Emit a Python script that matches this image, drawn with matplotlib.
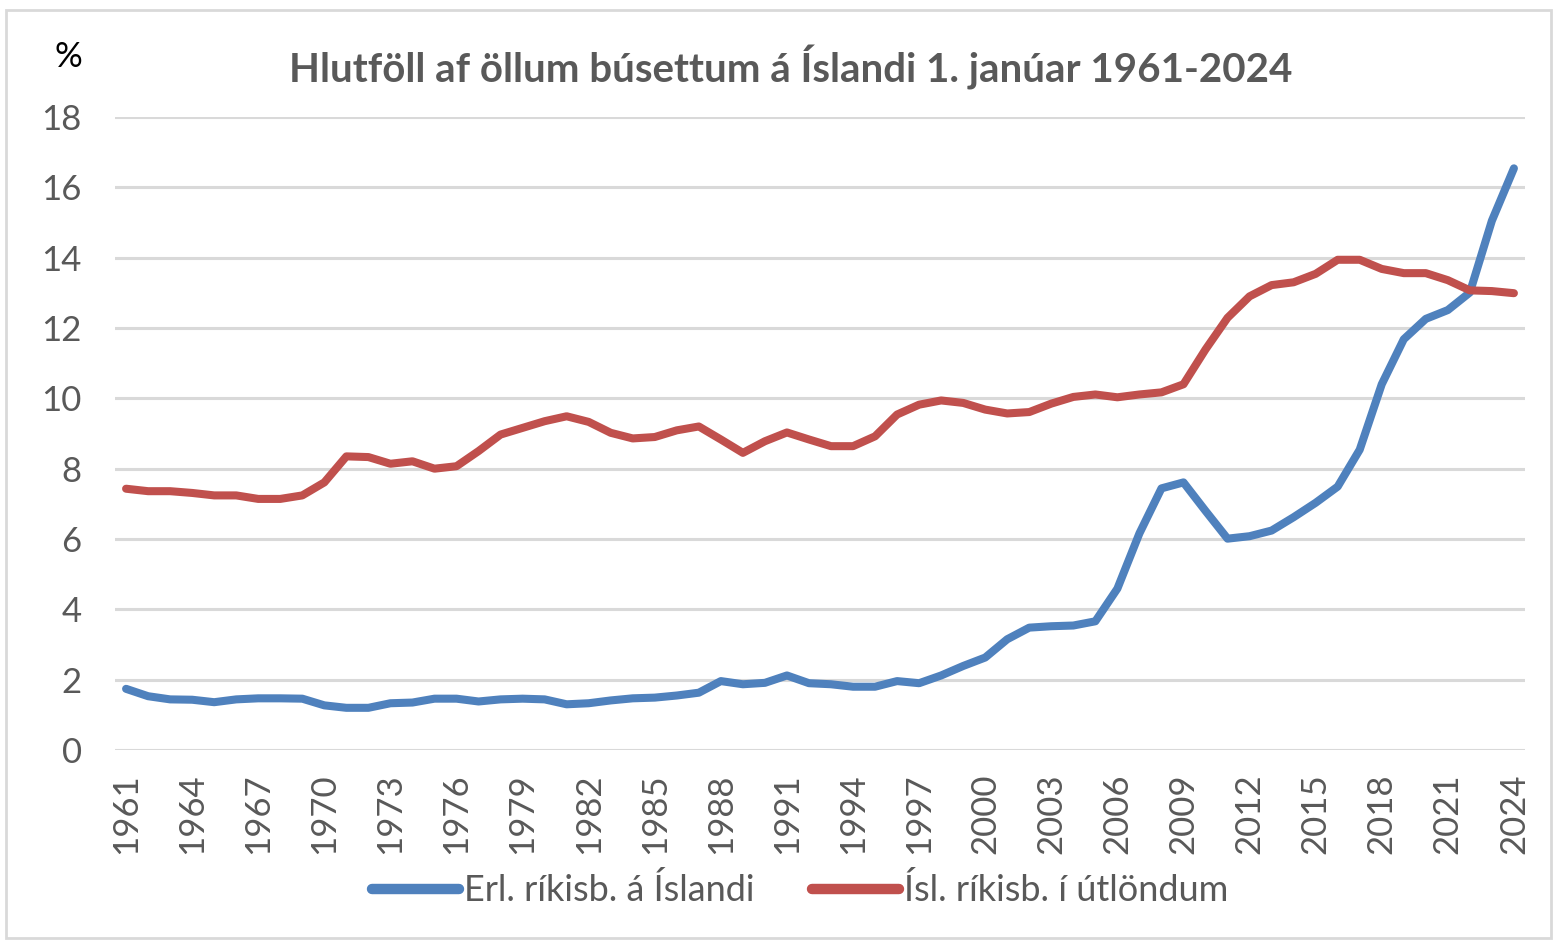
import numpy as np
import matplotlib.pyplot as plt
from matplotlib.patches import Rectangle

years = list(range(1961, 2025))

# Erl. ríkisb. á Íslandi (foreign citizens living in Iceland), %
erl = [1.74, 1.53, 1.44, 1.43, 1.36, 1.44, 1.47, 1.47, 1.46, 1.27,
       1.20, 1.20, 1.33, 1.35, 1.46, 1.46, 1.38, 1.44, 1.46, 1.44,
       1.30, 1.33, 1.41, 1.47, 1.49, 1.55, 1.63, 1.96, 1.87, 1.91,
       2.12, 1.90, 1.87, 1.80, 1.80, 1.96, 1.90, 2.12, 2.39, 2.63,
       3.15, 3.48, 3.52, 3.54, 3.66, 4.59, 6.16, 7.44, 7.61, 6.80,
       6.01, 6.08, 6.24, 6.62, 7.03, 7.49, 8.54, 10.40, 11.68, 12.26,
       12.51, 13.01, 15.05, 16.54]

# Ísl. ríkisb. í útlöndum (Icelandic citizens living abroad), %
isl = [7.43, 7.36, 7.36, 7.31, 7.24, 7.24, 7.14, 7.14, 7.24, 7.61,
       8.35, 8.33, 8.14, 8.21, 8.00, 8.07, 8.50, 8.97, 9.16, 9.35,
       9.49, 9.33, 9.02, 8.86, 8.90, 9.09, 9.20, 8.83, 8.45, 8.78,
       9.03, 8.83, 8.64, 8.64, 8.92, 9.54, 9.82, 9.94, 9.87, 9.68,
       9.57, 9.61, 9.85, 10.04, 10.11, 10.03, 10.11, 10.17, 10.40, 11.39,
       12.29, 12.90, 13.22, 13.30, 13.54, 13.94, 13.94, 13.68, 13.56, 13.56,
       13.36, 13.07, 13.05, 12.99]

labels = ["Erl. ríkisb. á Íslandi", "Ísl. ríkisb. í útlöndum"]

plt.rcParams['font.family'] = ['Lato', 'DejaVu Sans']
grey = '#595959'

fig = plt.figure(figsize=(15.57, 9.42), dpi=100)
ax = fig.add_axes([0.0739, 0.2038, 0.9055, 0.672])

ax.plot(years, erl, color='#4F81BD', lw=5.8, solid_capstyle='round', solid_joinstyle='round', label=labels[0])
ax.plot(years, isl, color='#C0504D', lw=5.8, solid_capstyle='round', solid_joinstyle='round', label=labels[1])

ax.set_xlim(1960.5, 2024.5)
ax.set_ylim(0, 18)
ax.set_yticks(range(0, 19, 2))
ax.set_xticks(years[::3])
ax.set_xticklabels([str(y) for y in years[::3]], rotation=90)
ax.tick_params(axis='both', length=0, labelsize=25, labelcolor=grey)
ax.tick_params(axis='y', pad=24)
ax.tick_params(axis='x', pad=17)
ax.grid(axis='y', color='#D9D9D9', lw=2.2)
ax.set_axisbelow(True)
for s in ax.spines.values():
    s.set_visible(False)

fig.text(0.508, 0.928, "Hlutföll af öllum búsettum á Íslandi 1. janúar 1961-2024",
         ha='center', va='center', fontsize=29, fontweight='bold', color=grey)
fig.text(0.044, 0.94, "%", ha='center', va='center', fontsize=25, color='black')

leg = fig.legend(loc='center', bbox_to_anchor=(0.514, 0.055), ncol=2, frameon=False,
                 fontsize=26, handlelength=2.4, columnspacing=1.6, handletextpad=0.15,
                 labelcolor=grey)
for h in leg.get_lines():
    h.set_linewidth(7.5)

fig.patches.append(Rectangle((0.004, 0.004), 0.992, 0.985, transform=fig.transFigure,
                             fill=False, edgecolor='#D9D9D9', lw=2))

fig.savefig('out.png', dpi=100)
